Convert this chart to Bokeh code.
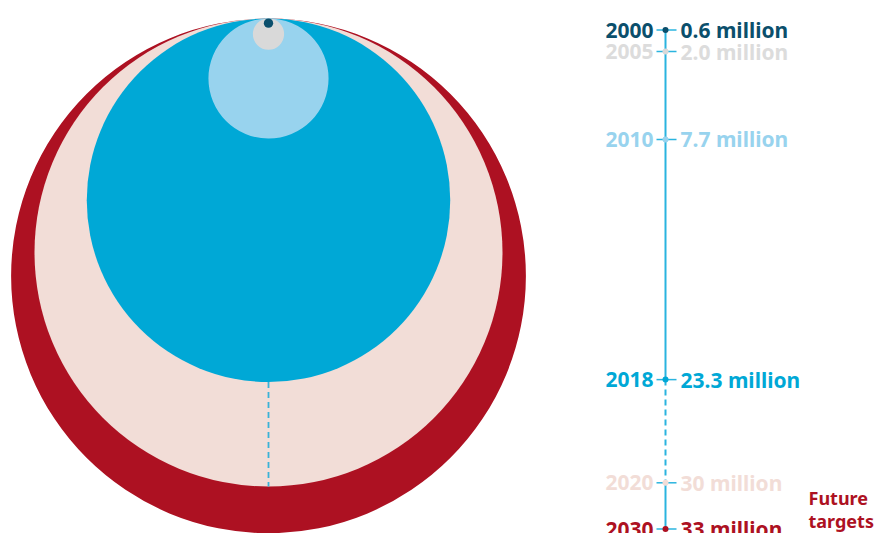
from bokeh.plotting import figure
from bokeh.models import Range1d, ColumnDataSource
from bokeh.core.properties import value
from bokeh.embed import file_html
from bokeh.resources import INLINE

# ---- data ----
years = ["2000", "2005", "2010", "2018", "2020", "2030"]
values = [0.6, 2.0, 7.7, 23.3, 30, 33]
value_labels = ["0.6 million", "2.0 million", "7.7 million", "23.3 million", "30 million", "33 million"]
colors = ["#0b4f6c", "#d9d9d9", "#98d3ee", "#00a8d6", "#f2ddd7", "#ad1122"]
text_colors = ["#0b4f6c", "#dcdcdc", "#98d3ee", "#00a8d6", "#f2ddd7", "#ad1122"]
future_label = ["Future", "targets"]

W, H = 875, 533
p = figure(width=W, height=H, output_backend="svg", toolbar_location=None,
           x_range=Range1d(0, W), y_range=Range1d(H, 0), min_border=0)
p.axis.visible = False
p.grid.visible = False
p.outline_line_color = None
p.background_fill_color = "white"

# ---- circles (radius proportional to value, all touching at top) ----
K = 7.8          # px per million (radius)
TOP = 18
CX = 268
radii = [v * K for v in values]
cys = [TOP + r for r in radii]
order = list(range(len(values)))[::-1]  # biggest first
src = ColumnDataSource(dict(
    x=[CX] * len(values),
    y=[cys[i] for i in order],
    r=[radii[i] for i in order],
    c=[colors[i] for i in order],
))
p.circle(x="x", y="y", radius="r", fill_color="c", line_color=None, source=src)

# dashed connector inside circles (2018 bottom to 2020 bottom)
b2018 = TOP + 2 * radii[3]
b2020 = TOP + 2 * radii[4]
p.segment(x0=[CX], y0=[b2018], x1=[CX], y1=[b2020], line_color="#3ab2d8",
          line_width=1.8, line_dash="6 4")

# ---- timeline ----
TX = 665
A, B = 20.3, 15.4
ty = [A + B * v for v in values]
line_col = "#2ab4df"
p.segment(x0=[TX], y0=[ty[0]], x1=[TX], y1=[ty[3]], line_color=line_col, line_width=2)
p.segment(x0=[TX], y0=[ty[3]], x1=[TX], y1=[ty[4]], line_color=line_col, line_width=2, line_dash="6 4")
p.segment(x0=[TX], y0=[ty[4]], x1=[TX], y1=[ty[5]], line_color=line_col, line_width=2)
p.segment(x0=[TX - 9] * 6, y0=ty, x1=[TX + 11] * 6, y1=ty, line_color=line_col, line_width=1.5)
p.scatter(x=[TX] * 6, y=ty, size=6, fill_color=colors, line_color=None)

tsrc = ColumnDataSource(dict(y=ty, yr=years, val=value_labels, c=text_colors))
p.text(x=TX - 12, y="y", text="yr", text_color="c", source=tsrc,
       text_font=value("Noto Sans"), text_font_style="bold", text_font_size="21px",
       text_align="right", text_baseline="middle")
p.text(x=TX + 15, y="y", text="val", text_color="c", source=tsrc,
       text_font=value("Noto Sans"), text_font_style="bold", text_font_size="21px",
       text_align="left", text_baseline="middle")

p.text(x=[808, 808], y=[497, 520], text=future_label, text_color="#ad1122",
       text_font=value("Noto Sans"), text_font_style="bold", text_font_size="18px",
       text_align="left", text_baseline="middle")

html = file_html(p, INLINE)
open("out.html", "w").write(html)
